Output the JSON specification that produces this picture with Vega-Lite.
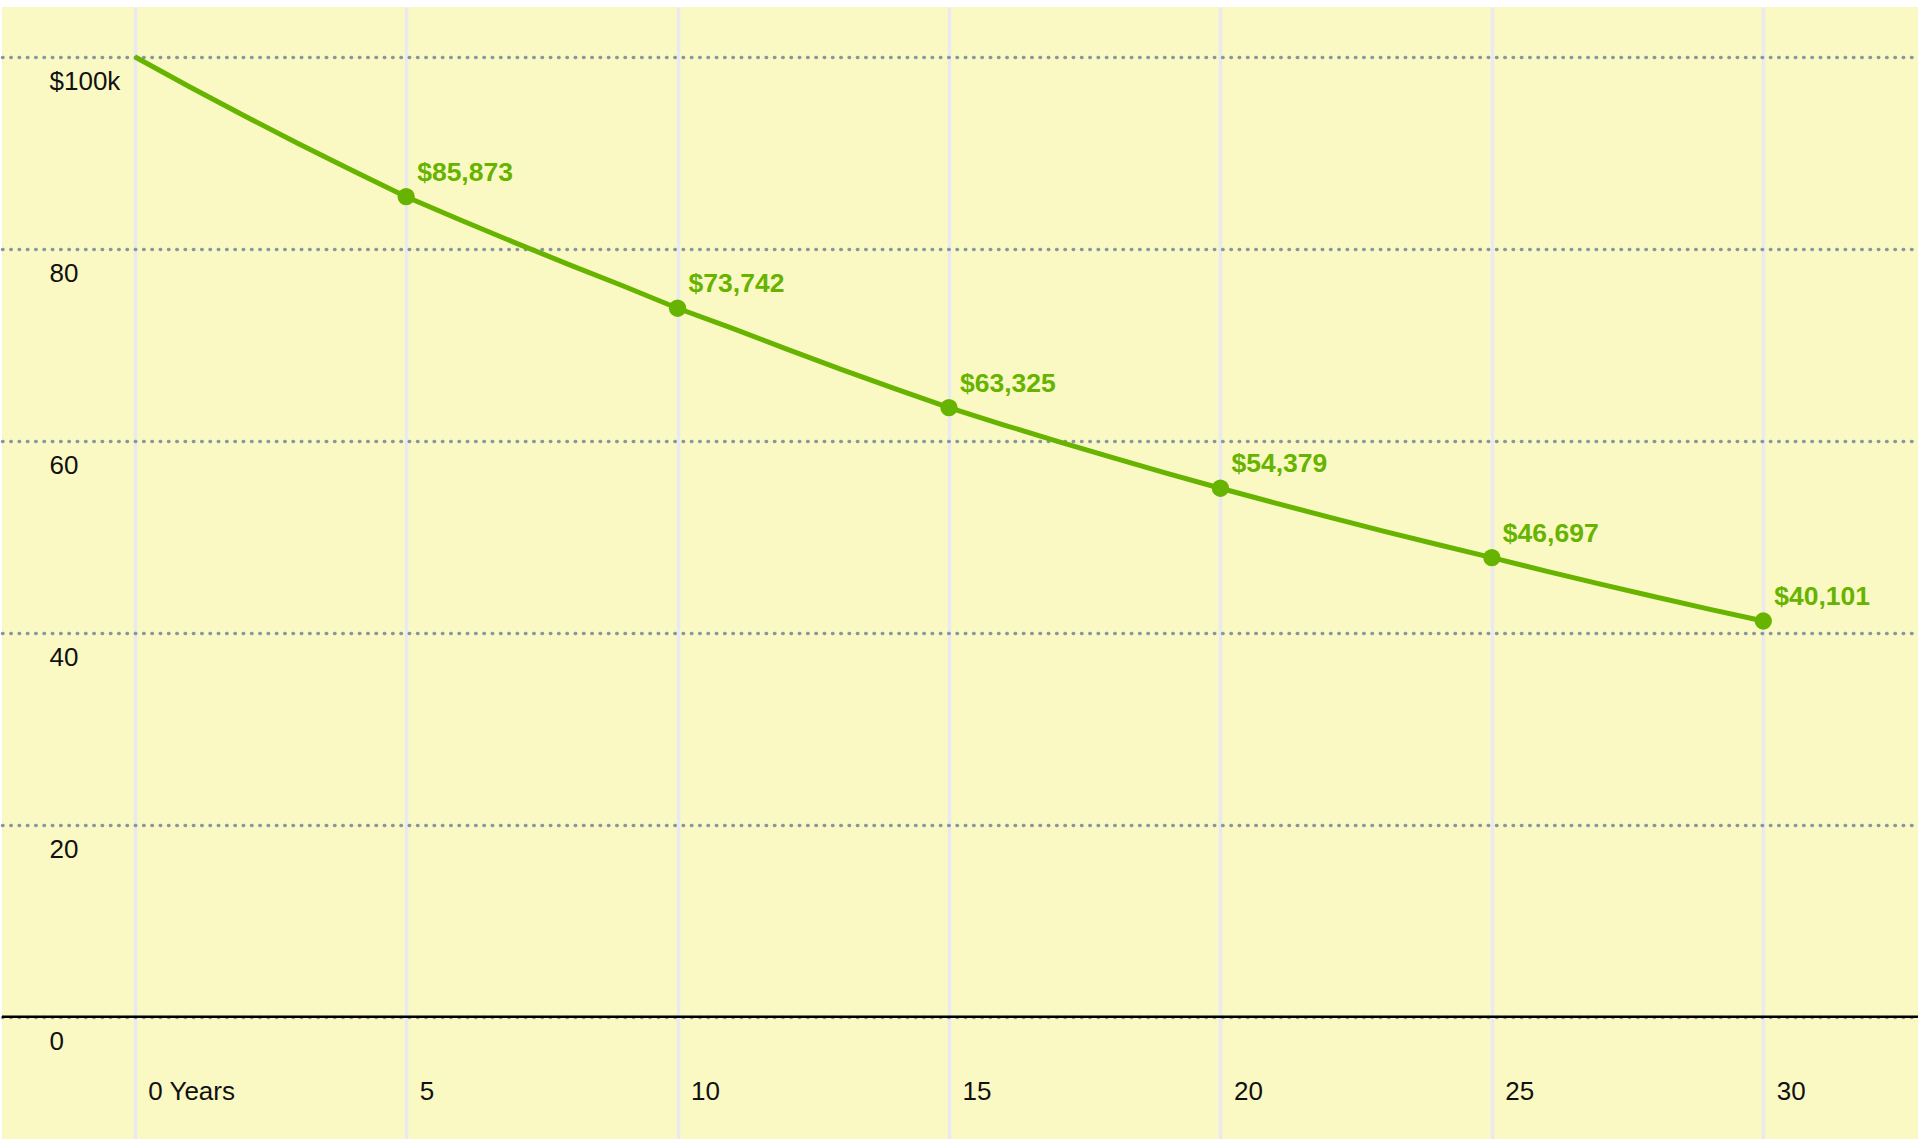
{
  "$schema": "https://vega.github.io/schema/vega-lite/v6.json",
  "width": 1920,
  "height": 1139,
  "autosize": {"type": "fit", "contains": "padding"},
  "padding": {"top": 7, "left": 0, "right": 0, "bottom": 0},
  "background": "#ffffff",
  "config": {
    "view": {"fill": "#fbf9c3", "stroke": null},
    "font": "Liberation Sans"
  },
  "data": {
    "values": [
      {"year": 0, "value": 100.0},
      {"year": 1, "value": 96.90},
      {"year": 2, "value": 93.90},
      {"year": 3, "value": 90.99},
      {"year": 4, "value": 88.17},
      {"year": 5, "value": 85.42, "label": "$85,873"},
      {"year": 6, "value": 82.99},
      {"year": 7, "value": 80.64},
      {"year": 8, "value": 78.35},
      {"year": 9, "value": 76.12},
      {"year": 10, "value": 73.80, "label": "$73,742"},
      {"year": 11, "value": 71.73},
      {"year": 12, "value": 69.56},
      {"year": 13, "value": 67.46},
      {"year": 14, "value": 65.42},
      {"year": 15, "value": 63.44, "label": "$63,325"},
      {"year": 16, "value": 61.66},
      {"year": 17, "value": 59.94},
      {"year": 18, "value": 58.26},
      {"year": 19, "value": 56.63},
      {"year": 20, "value": 55.05, "label": "$54,379"},
      {"year": 21, "value": 53.52},
      {"year": 22, "value": 52.04},
      {"year": 23, "value": 50.59},
      {"year": 24, "value": 49.19},
      {"year": 25, "value": 47.82, "label": "$46,697"},
      {"year": 26, "value": 46.42},
      {"year": 27, "value": 45.06},
      {"year": 28, "value": 43.74},
      {"year": 29, "value": 42.46},
      {"year": 30, "value": 41.22, "label": "$40,101"}
    ]
  },
  "encoding": {
    "x": {
      "field": "year",
      "type": "quantitative",
      "scale": {"domain": [-2.445, 32.85], "nice": false, "zero": false},
      "axis": {
        "orient": "bottom",
        "values": [0, 5, 10, 15, 20, 25, 30],
        "title": null,
        "domain": false,
        "ticks": false,
        "tickSize": 0,
        "grid": true,
        "gridColor": "#e9e9ef",
        "gridWidth": 3.5,
        "labelAlign": "left",
        "labelBaseline": "middle",
        "labelPadding": -48,
        "labelOffset": 13,
        "labelFontSize": 26,
        "labelColor": "#111111",
        "labelFont": "Liberation Sans",
        "labelOverlap": false,
        "labelFlush": false,
        "labelBound": false,
        "labelExpr": "datum.value == 0 ? '0 Years' : datum.label"
      }
    },
    "y": {
      "field": "value",
      "type": "quantitative",
      "scale": {"domain": [-12.74, 105.18], "nice": false, "zero": false},
      "axis": {
        "orient": "left",
        "values": [0, 20, 40, 60, 80, 100],
        "title": null,
        "domain": false,
        "ticks": false,
        "tickSize": 0,
        "grid": true,
        "gridColor": "#8696a5",
        "gridWidth": 3.5,
        "gridDash": [0.5, 7.8],
        "gridCap": "round",
        "labelAlign": "left",
        "labelBaseline": "middle",
        "labelPadding": -47,
        "labelOffset": 25,
        "labelFontSize": 26,
        "labelColor": "#111111",
        "labelFont": "Liberation Sans",
        "labelOverlap": false,
        "labelFlush": false,
        "labelBound": false,
        "labelExpr": "datum.value == 100 ? '$100k' : datum.label"
      }
    }
  },
  "layer": [
    {
      "data": {"values": [{"zero": 0}]},
      "mark": {"type": "rule", "color": "#000000", "strokeWidth": 2.5},
      "encoding": {
        "x": null,
        "y": {"field": "zero", "type": "quantitative"}
      }
    },
    {
      "mark": {"type": "line", "color": "#66b300", "strokeWidth": 5}
    },
    {
      "transform": [{"filter": "datum.label != null"}],
      "mark": {"type": "point", "shape": "circle", "filled": true, "opacity": 1, "color": "#66b300", "size": 300}
    },
    {
      "transform": [{"filter": "datum.label != null"}],
      "mark": {"type": "text", "align": "left", "baseline": "middle", "dx": 11, "dy": -24, "fontSize": 26.5, "fontWeight": "bold", "color": "#66b300", "font": "Liberation Sans"},
      "encoding": {"text": {"field": "label", "type": "nominal"}}
    }
  ]
}
